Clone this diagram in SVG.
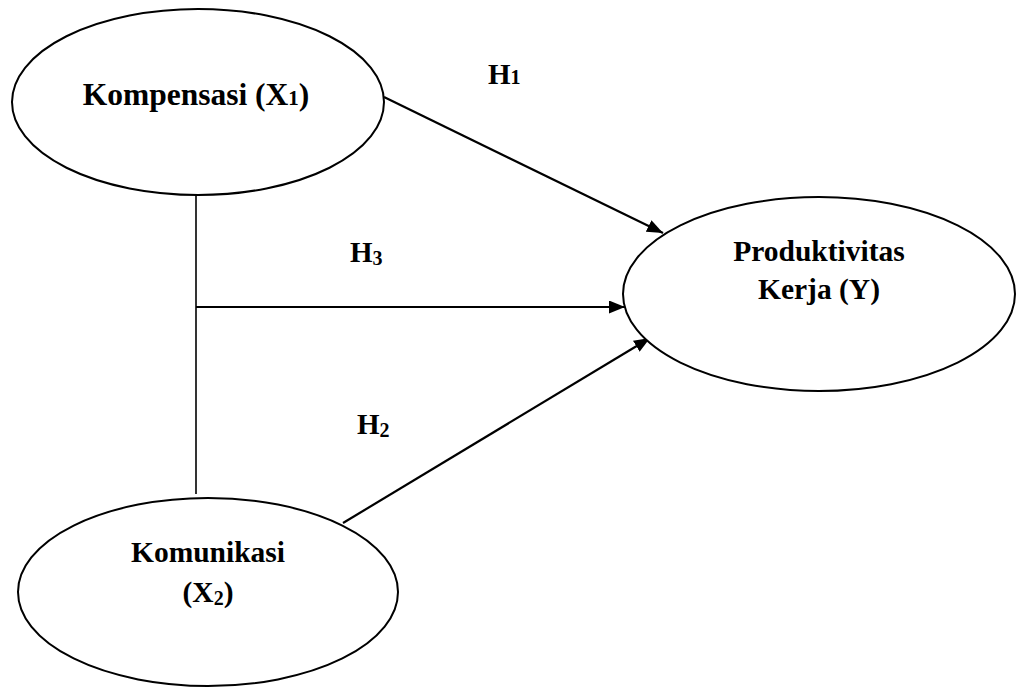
<svg xmlns="http://www.w3.org/2000/svg" width="1016" height="688" viewBox="0 0 1016 688">
<style>
.node{fill:#fff;stroke:#000;stroke-width:2}
.lbl{font-family:"Liberation Serif","Times New Roman",serif;font-weight:bold;font-size:29.5px;fill:#000}
.big{font-size:31.5px}
.h{font-size:29px}
.sub{font-size:20px}
.con{stroke:#000;stroke-width:2.2;fill:none}
</style>
<defs>
<marker id="ah" markerWidth="16" markerHeight="13" refX="16" refY="6.5" orient="auto" markerUnits="userSpaceOnUse">
<path d="M0,0 L16,6.5 L0,13 Z" fill="#000"/>
</marker>
</defs>
<rect width="1016" height="688" fill="#fff"/>
<g id="connectors">
<line class="con" x1="196" y1="195" x2="196" y2="494" style="stroke-width:1.6"/>
<line class="con" x1="196" y1="307" x2="625" y2="307" marker-end="url(#ah)"/>
<line class="con" x1="384" y1="97" x2="663" y2="233" marker-end="url(#ah)"/>
<line class="con" x1="343" y1="523" x2="650" y2="338" marker-end="url(#ah)"/>
</g>
<g id="kompensasi">
<ellipse class="node" cx="198" cy="102" rx="186" ry="93"/>
<text class="lbl big" x="196" y="105" text-anchor="middle">Kompensasi (X<tspan class="sub" style="font-size:21px">1</tspan>)</text>
</g>
<g id="produktivitas">
<ellipse class="node" cx="819" cy="294" rx="196" ry="97"/>
<text class="lbl" x="819" y="261" text-anchor="middle">Produktivitas</text>
<text class="lbl" x="819" y="299" text-anchor="middle">Kerja (Y)</text>
</g>
<g id="komunikasi">
<ellipse class="node" cx="208" cy="592" rx="190" ry="94"/>
<text class="lbl" x="208" y="562" text-anchor="middle">Komunikasi</text>
<text class="lbl" x="208" y="602" text-anchor="middle">(X<tspan class="sub" dy="3">2</tspan><tspan dy="-3">)</tspan></text>
</g>
<g id="labels">
<text class="lbl h" x="488" y="84">H<tspan class="sub">1</tspan></text>
<text class="lbl h" x="350" y="262">H<tspan class="sub" dy="3">3</tspan></text>
<text class="lbl h" x="357" y="434">H<tspan class="sub" dy="3">2</tspan></text>
</g>
</svg>
